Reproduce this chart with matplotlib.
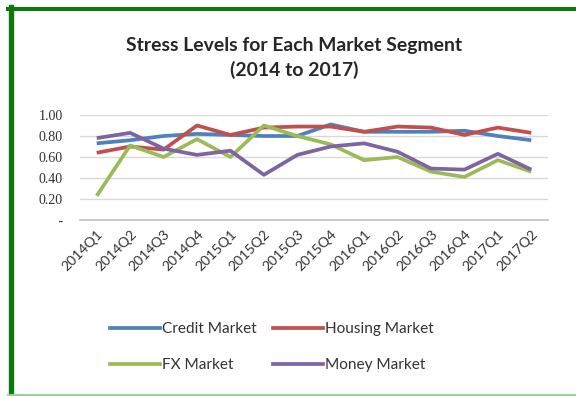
import matplotlib
matplotlib.use("Agg")
import matplotlib.pyplot as plt
from matplotlib.lines import Line2D
from matplotlib.ticker import FuncFormatter

quarters = ["2014Q1", "2014Q2", "2014Q3", "2014Q4", "2015Q1", "2015Q2", "2015Q3",
            "2015Q4", "2016Q1", "2016Q2", "2016Q3", "2016Q4", "2017Q1", "2017Q2"]
credit = [0.73, 0.76, 0.80, 0.82, 0.81, 0.80, 0.80, 0.91, 0.84, 0.84, 0.84, 0.85, 0.80, 0.76]
housing = [0.64, 0.70, 0.67, 0.90, 0.81, 0.88, 0.89, 0.89, 0.84, 0.89, 0.88, 0.81, 0.88, 0.83]
fx = [0.23, 0.71, 0.60, 0.77, 0.60, 0.90, 0.80, 0.72, 0.57, 0.60, 0.46, 0.41, 0.57, 0.46]
money = [0.78, 0.83, 0.68, 0.62, 0.66, 0.43, 0.62, 0.70, 0.73, 0.65, 0.49, 0.48, 0.63, 0.48]

series = [("Credit Market", credit, "#4F81BD"),
          ("Housing Market", housing, "#C0504D"),
          ("FX Market", fx, "#9BBB59"),
          ("Money Market", money, "#8064A2")]

W, H = 576, 396
fig = plt.figure(figsize=(W / 96, H / 96), dpi=96)
ax = fig.add_axes([80 / W, 1 - 220 / H, 468 / W, 105 / H])

x = list(range(len(quarters)))
for name, vals, col in series:
    ax.plot(x, vals, color=col, lw=2.8, label=name, solid_capstyle="butt", zorder=3)

ax.set_xlim(-0.5, len(quarters) - 0.5)
ax.set_ylim(0, 1.0)
ax.set_yticks([0, 0.2, 0.4, 0.6, 0.8, 1.0])
ax.yaxis.set_major_formatter(FuncFormatter(lambda v, p: " -" if v == 0 else f"{v:.2f}"))
ax.grid(axis="y", color="#D9D9D9", lw=1)
ax.set_axisbelow(True)
for s in ["top", "right", "left"]:
    ax.spines[s].set_visible(False)
ax.spines["bottom"].set_color("#BFBFBF")
ax.spines["bottom"].set_linewidth(1.2)
ax.tick_params(axis="both", length=0)
ax.tick_params(axis="y", pad=13, labelsize=10.5, labelcolor="#333333")
for t in ax.get_yticklabels():
    t.set_fontfamily("Liberation Serif")
ax.set_xticks(x)
ax.set_xticklabels(quarters, rotation=45, ha="right", rotation_mode="anchor",
                   fontsize=10.5, color="#333333", fontfamily="Lato")
ax.tick_params(axis="x", pad=6)

fig.text(294 / W, 1 - 58 / H, "Stress Levels for Each Market Segment\n(2014 to 2017)",
         ha="center", va="center", fontsize=14.5, fontweight="bold", fontfamily="Lato",
         color="#262626", linespacing=1.45)

# legend fills column-wise, so order entries to read row by row
order = [0, 2, 1, 3]
handles = [Line2D([], [], color=series[i][2], lw=2.8) for i in order]
labels = [series[i][0] for i in order]
fig.legend(handles, labels, loc="center", bbox_to_anchor=(272 / W, 1 - 347 / H), ncol=2,
           frameon=False, prop={"family": "Lato", "size": 11.5}, handlelength=3.2,
           handletextpad=0.15, columnspacing=1.1, labelspacing=1.45, labelcolor="#333333")

# green border around the chart
fig.add_artist(Line2D([10.5 / W, 10.5 / W], [1 - 7 / H, 1 - 395 / H], color="#0B7A0B", lw=4))
fig.add_artist(Line2D([8 / W, 1.0], [1 - 9 / H, 1 - 9 / H], color="#0B7A0B", lw=3))
fig.add_artist(Line2D([8 / W, 1.0], [1 - 394.5 / H, 1 - 394.5 / H], color="#8ED88E", lw=1.5))

fig.savefig("out.png", dpi=96)
